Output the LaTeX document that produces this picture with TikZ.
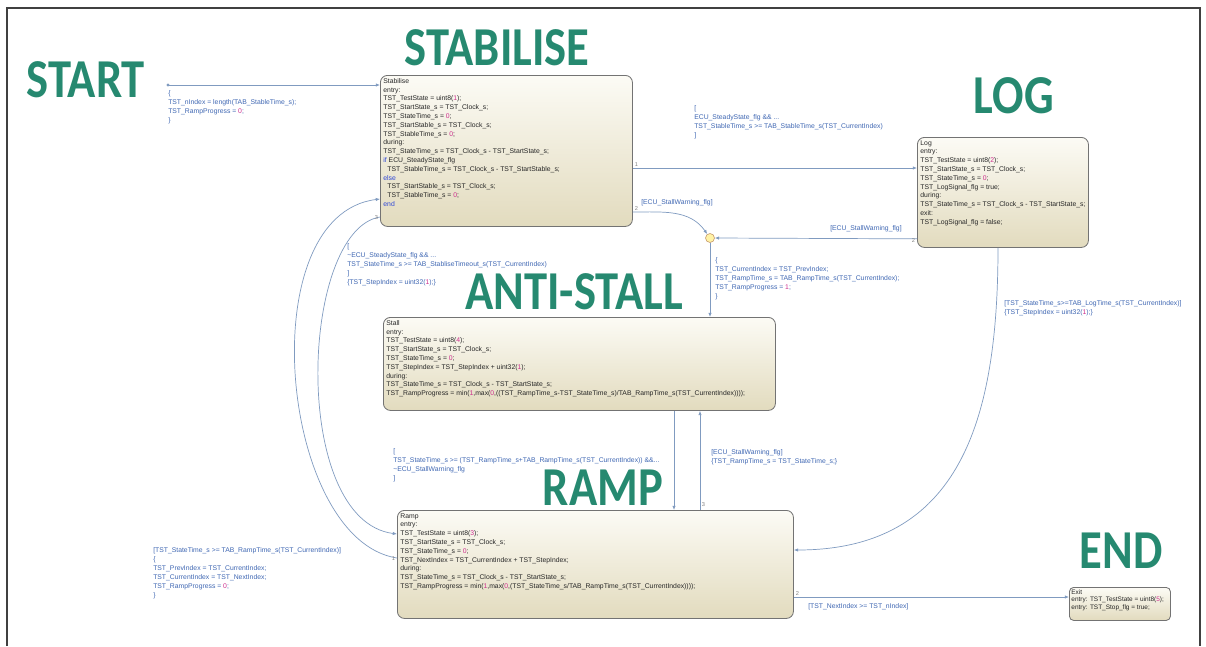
\documentclass[tikz,border=0pt]{standalone}
\usepackage{graphicx}
\usepackage{xcolor}
\usepackage{fontspec}
\setmainfont{Liberation Sans}
\newfontfamily\headfont{Carlito}
\usetikzlibrary{arrows.meta,calc,positioning}

\definecolor{headgreen}{RGB}{38,137,112}
\definecolor{transblue}{RGB}{128,155,192}
\definecolor{labelblue}{RGB}{62,102,178}
\definecolor{numpink}{RGB}{205,45,140}
\definecolor{kwblue}{RGB}{45,70,215}
\definecolor{statetop}{RGB}{252,251,245}
\definecolor{statebot}{RGB}{226,219,190}

\newlength{\px}
\setlength{\px}{0.025cm}
\newcommand{\nm}[1]{\textcolor{numpink}{#1}}
\newcommand{\kw}[1]{\textcolor{kwblue}{#1}}
\newcommand{\hd}[1]{\scalebox{0.85}[1]{#1}}
\newcommand{\stbody}[3]{\begin{minipage}[t][#2\px][t]{#1\px}#3\end{minipage}}

\tikzset{
	chartstate/.style={
			draw=black!55, line width=0.6pt, rounded corners=5pt,
			top color=statetop, bottom color=statebot,
			anchor=north west, inner sep=3\px, text=black!85,
			font=\fontsize{4.85}{6.25}\selectfont
		},
	junction/.style={circle, draw=orange!60!black!60, fill=orange!30!yellow!35, minimum size=9\px, inner sep=0pt},
	trans/.style={draw=transblue, line width=0.5pt, -{Latex[length=3pt,width=2.4pt]}},
	guard/.style={anchor=north west, align=left, inner sep=0pt, text=labelblue, font=\fontsize{4.85}{6.4}\selectfont},
	order/.style={anchor=west, inner sep=0.5pt, text=black!50, font=\fontsize{4}{4}\selectfont},
	heading/.style={inner sep=0pt, text=headgreen, font=\headfont\bfseries\fontsize{39}{39}\selectfont}
}

\begin{document}
\begin{tikzpicture}[x=0.025cm, y=-0.025cm]
		\useasboundingbox (0,0) rectangle (1206,646);

		% Draw the slide frame
		\draw[black!75, line width=1.5\px] (7,646) -- (7,8) -- (1200,8) -- (1200,646);

		% Headings of the phases
		\node[heading] (hstart) at (86,80) {\hd{START}};
		\node[heading] (hstab) at (497,48) {\hd{STABILISE}};
		\node[heading] (hlog) at (1014,96) {\hd{LOG}};
		\node[heading] (hstall) at (574,292) {\hd{ANTI-STALL}};
		\node[heading] (hramp) at (603,488) {\hd{RAMP}};
		\node[heading] (hend) at (1121,551) {\hd{END}};

		% The chart states
		\node[chartstate] (stab) at (380,75) {\stbody{246}{145}{%
				Stabilise\\
				entry:\\
				TST\_TestState = uint8(\nm{1});\\
				TST\_StartState\_s = TST\_Clock\_s;\\
				TST\_StateTime\_s = \nm{0};\\
				TST\_StartStable\_s = TST\_Clock\_s;\\
				TST\_StableTime\_s = \nm{0};\\
				during:\\
				TST\_StateTime\_s = TST\_Clock\_s - TST\_StartState\_s;\\
				\kw{if} ECU\_SteadyState\_flg\\
				\hspace*{4\px}TST\_StableTime\_s = TST\_Clock\_s - TST\_StartStable\_s;\\
				\kw{else}\\
				\hspace*{4\px}TST\_StartStable\_s = TST\_Clock\_s;\\
				\hspace*{4\px}TST\_StableTime\_s = \nm{0};\\
				\kw{end}}};

		\node[chartstate] (log) at (917,137) {\stbody{165}{104}{%
				Log\\
				entry:\\
				TST\_TestState = uint8(\nm{2});\\
				TST\_StartState\_s = TST\_Clock\_s;\\
				TST\_StateTime\_s = \nm{0};\\
				TST\_LogSignal\_flg = true;\\
				during:\\
				TST\_StateTime\_s = TST\_Clock\_s - TST\_StartState\_s;\\
				exit:\\
				TST\_LogSignal\_flg = false;}};

		\node[chartstate] (stall) at (383,317) {\stbody{386}{87}{%
				Stall\\
				entry:\\
				TST\_TestState = uint8(\nm{4});\\
				TST\_StartState\_s = TST\_Clock\_s;\\
				TST\_StateTime\_s = \nm{0};\\
				TST\_StepIndex = TST\_StepIndex + uint32(\nm{1});\\
				during:\\
				TST\_StateTime\_s = TST\_Clock\_s - TST\_StartState\_s;\\
				TST\_RampProgress = min(\nm{1},max(\nm{0},((TST\_RampTime\_s-TST\_StateTime\_s)/TAB\_RampTime\_s(TST\_CurrentIndex))));}};

		\node[chartstate] (ramp) at (397,510) {\stbody{390}{102}{%
				Ramp\\
				entry:\\
				TST\_TestState = uint8(\nm{3});\\
				TST\_StartState\_s = TST\_Clock\_s;\\
				TST\_StateTime\_s = \nm{0};\\
				TST\_NextIndex = TST\_CurrentIndex + TST\_StepIndex;\\
				during:\\
				TST\_StateTime\_s = TST\_Clock\_s - TST\_StartState\_s;\\
				TST\_RampProgress = min(\nm{1},max(\nm{0},(TST\_StateTime\_s/TAB\_RampTime\_s(TST\_CurrentIndex))));}};

		\node[chartstate, rounded corners=3pt, inner sep=2\px, font=\fontsize{4.6}{5.5}\selectfont] (exit) at (1069,587) {\stbody{97}{29}{%
				Exit\\
				entry: TST\_TestState = uint8(\nm{5});\\
				entry: TST\_Stop\_flg = true;}};

		% Junction in front of the stall state
		\node[junction] (junc) at (710,238) {};

		% Default transition
		\coordinate (init) at (168,85);
		\fill[transblue] (init) circle (1.2pt);
		\draw[trans] (init) -- (init -| stab.west);
		\node[guard] (ginit) at (168,90) {\{\\TST\_nIndex = length(TAB\_StableTime\_s);\\TST\_RampProgress = \nm{0};\\\}};

		% Stabilise -> Log
		\draw[trans] ($(stab.north east)+(0,93)$) coordinate (s2l) -- (s2l -| log.west);
		\node[order] (o1) at ($(s2l)+(1,-3)$) {1};
		\node[guard] (gs2l) at (694,105) {{[}\\ECU\_SteadyState\_flg \&\& ...\\TST\_StableTime\_s >= TAB\_StableTime\_s(TST\_CurrentIndex)\\{]}};

		% Stabilise -> junction
		\draw[trans] ($(stab.north east)+(0,137)$) coordinate (s2j) to[out=0, in=125] (junc);
		\node[order] (o2) at ($(s2j)+(1,-3)$) {2};
		\node[guard] (gs2j) at (641,199) {{[}ECU\_StallWarning\_flg{]}};

		% Log -> junction
		\draw[trans] ($(log.south west)+(0,-9)$) coordinate (l2j) -- (junc.east);
		\node[order, anchor=east] (o3) at ($(l2j)+(-1,2)$) {2};
		\node[guard] (gl2j) at (830,225) {{[}ECU\_StallWarning\_flg{]}};

		% Junction -> Stall
		\draw[trans] (junc.south) -- (junc.south |- stall.north);
		\node[guard] (gj2s) at (715,257) {\{\\TST\_CurrentIndex = TST\_PrevIndex;\\TST\_RampTime\_s = TAB\_RampTime\_s(TST\_CurrentIndex);\\TST\_RampProgress = \nm{1};\\\}};

		% Stabilise -> Ramp
		\draw[trans] ($(stab.north west)+(0,142)$) coordinate (s2r) .. controls (300,230) and (290,520) .. ($(ramp.north west)+(0,24)$);
		\node[order, anchor=east] (o4) at ($(s2r)+(-1,1)$) {3};
		\node[guard] (gs2r) at (347,243) {{[}\\\textasciitilde ECU\_SteadyState\_flg \&\& ...\\TST\_StateTime\_s >= TAB\_StabliseTimeout\_s(TST\_CurrentIndex)\\{]}\\\{TST\_StepIndex = uint32(\nm{1});\}};

		% Ramp -> Stabilise
		\draw[trans] ($(ramp.north west)+(0,48)$) coordinate (r2s) .. controls (280,540) and (250,215) .. ($(stab.north west)+(0,124)$);
		\node[order, anchor=east] (o5) at ($(r2s)+(-1,1)$) {1};
		\node[guard] (gr2s) at (153,547) {{[}TST\_StateTime\_s >= TAB\_RampTime\_s(TST\_CurrentIndex){]}\\\{\\TST\_PrevIndex = TST\_CurrentIndex;\\TST\_CurrentIndex = TST\_NextIndex;\\TST\_RampProgress = \nm{0};\\\}};

		% Stall -> Ramp
		\draw[trans] ($(stall.south west)+(291,0)$) coordinate (st2r) -- (st2r |- ramp.north);
		\node[guard] (gst2r) at (393,448) {{[}\\TST\_StateTime\_s >= (TST\_RampTime\_s+TAB\_RampTime\_s(TST\_CurrentIndex)) \&\&...\\\textasciitilde ECU\_StallWarning\_flg\\{]}};

		% Ramp -> Stall
		\draw[trans] ($(ramp.north west)+(303,0)$) coordinate (r2st) -- (r2st |- stall.south);
		\node[order] (o6) at ($(r2st)+(1,-5)$) {3};
		\node[guard] (gr2st) at (711,449) {{[}ECU\_StallWarning\_flg{]}\\\{TST\_RampTime\_s = TST\_StateTime\_s;\}};

		% Log -> Ramp
		\draw[trans] ($(log.south west)+(81,0)$) .. controls (998,420) and (960,550) .. ($(ramp.north east)+(0,40)$);
		\node[guard] (gl2r) at (1004,300) {{[}TST\_StateTime\_s>=TAB\_LogTime\_s(TST\_CurrentIndex){]}\\\{TST\_StepIndex = uint32(\nm{1});\}};

		% Ramp -> Exit
		\draw[trans] ($(ramp.north east)+(0,87)$) coordinate (r2e) -- (r2e -| exit.west);
		\node[order] (o7) at ($(r2e)+(1,-3)$) {2};
		\node[guard] (gr2e) at (808,603) {{[}TST\_NextIndex >= TST\_nIndex{]}};
	\end{tikzpicture}
\end{document}
